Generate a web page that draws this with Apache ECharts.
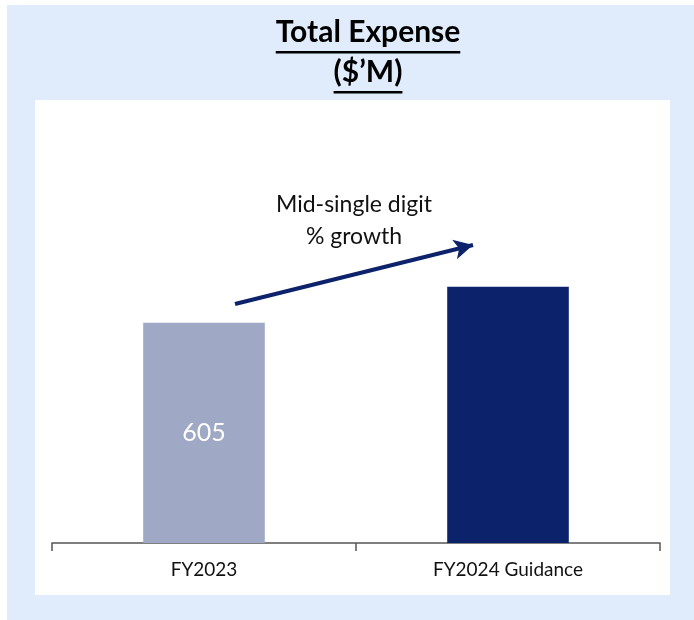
<!DOCTYPE html>
<html>
<head>
<meta charset="utf-8">
<title>Total Expense</title>
<script src="https://cdn.jsdelivr.net/npm/echarts@6/dist/echarts.min.js"></script>
<style>
  html, body { margin: 0; padding: 0; background: #ffffff; }
  #main { width: 694px; height: 620px; }
</style>
</head>
<body>
<div id="main"></div>
<script>
// data
var categories = ['FY2023', 'FY2024 Guidance'];
var expenseValues = [605, 704];
var barColors = ['#9fa8c5', '#0c236b'];
var shownLabels = ['605', ''];
var titleLines = ['Total Expense', '($\u2019M)'];
var noteLines = ['Mid-single digit', '% growth'];

var myChart = echarts.init(document.getElementById('main'));
var fontName = 'Lato, "Open Sans", sans-serif';
var titleFont = 'bold 30px ' + fontName;
var titleX = 368;

// underline widths follow the real text width
var ctx = document.createElement('canvas').getContext('2d');
ctx.font = titleFont;
var w1 = ctx.measureText(titleLines[0]).width;
var w2 = ctx.measureText(titleLines[1]).width;

var option = {
    backgroundColor: '#ffffff',
    animation: false,
    graphic: [
        { type: 'rect', shape: { x: 7, y: 5, width: 687, height: 615 }, style: { fill: '#e0ecfc' }, z: -10 },
        { type: 'rect', shape: { x: 35, y: 100, width: 635, height: 495 }, style: { fill: '#ffffff' }, z: -9 },
        {
            type: 'text', x: titleX, y: 17,
            style: { text: titleLines[0], font: titleFont, fill: '#000000', align: 'center' }
        },
        {
            type: 'text', x: titleX, y: 57,
            style: { text: titleLines[1], font: titleFont, fill: '#000000', align: 'center' }
        },
        { type: 'rect', shape: { x: titleX - w1 / 2, y: 51, width: w1, height: 2.5 }, style: { fill: '#000000' } },
        { type: 'rect', shape: { x: titleX - w2 / 2, y: 91, width: w2, height: 2.5 }, style: { fill: '#000000' } },
        {
            type: 'text', x: 354, y: 189,
            style: {
                text: noteLines.join('\n'), fontFamily: fontName, fontSize: 23, lineHeight: 32,
                fill: '#111111', align: 'center'
            }
        }
    ],
    grid: { left: 52, right: 34, top: 179, bottom: 77 },
    xAxis: {
        type: 'category',
        data: categories,
        axisLine: { lineStyle: { color: '#555555', width: 1.5 } },
        axisTick: { show: true, length: 8, inside: false, lineStyle: { color: '#555555', width: 1.5 } },
        axisLabel: { margin: 17, fontFamily: fontName, fontSize: 19, color: '#111111' }
    },
    yAxis: {
        type: 'value', min: 0, max: 1000, show: false,
        splitLine: { show: false }
    },
    series: [{
        type: 'bar',
        barWidth: '40%',
        data: expenseValues.map(function (v, i) {
            return { value: v, itemStyle: { color: barColors[i] } };
        }),
        label: {
            show: true, position: 'inside', fontFamily: fontName, fontSize: 25, color: '#ffffff',
            formatter: function (p) { return shownLabels[p.dataIndex]; }
        },
        markLine: {
            silent: true,
            symbol: ['none', 'arrow'],
            symbolSize: [15, 19],
            label: { show: false },
            lineStyle: { color: '#0c236b', width: 4, type: 'solid' },
            data: [[{ x: 235, y: 304 }, { x: 473, y: 245 }]]
        }
    }]
};
myChart.setOption(option);
</script>
</body>
</html>
